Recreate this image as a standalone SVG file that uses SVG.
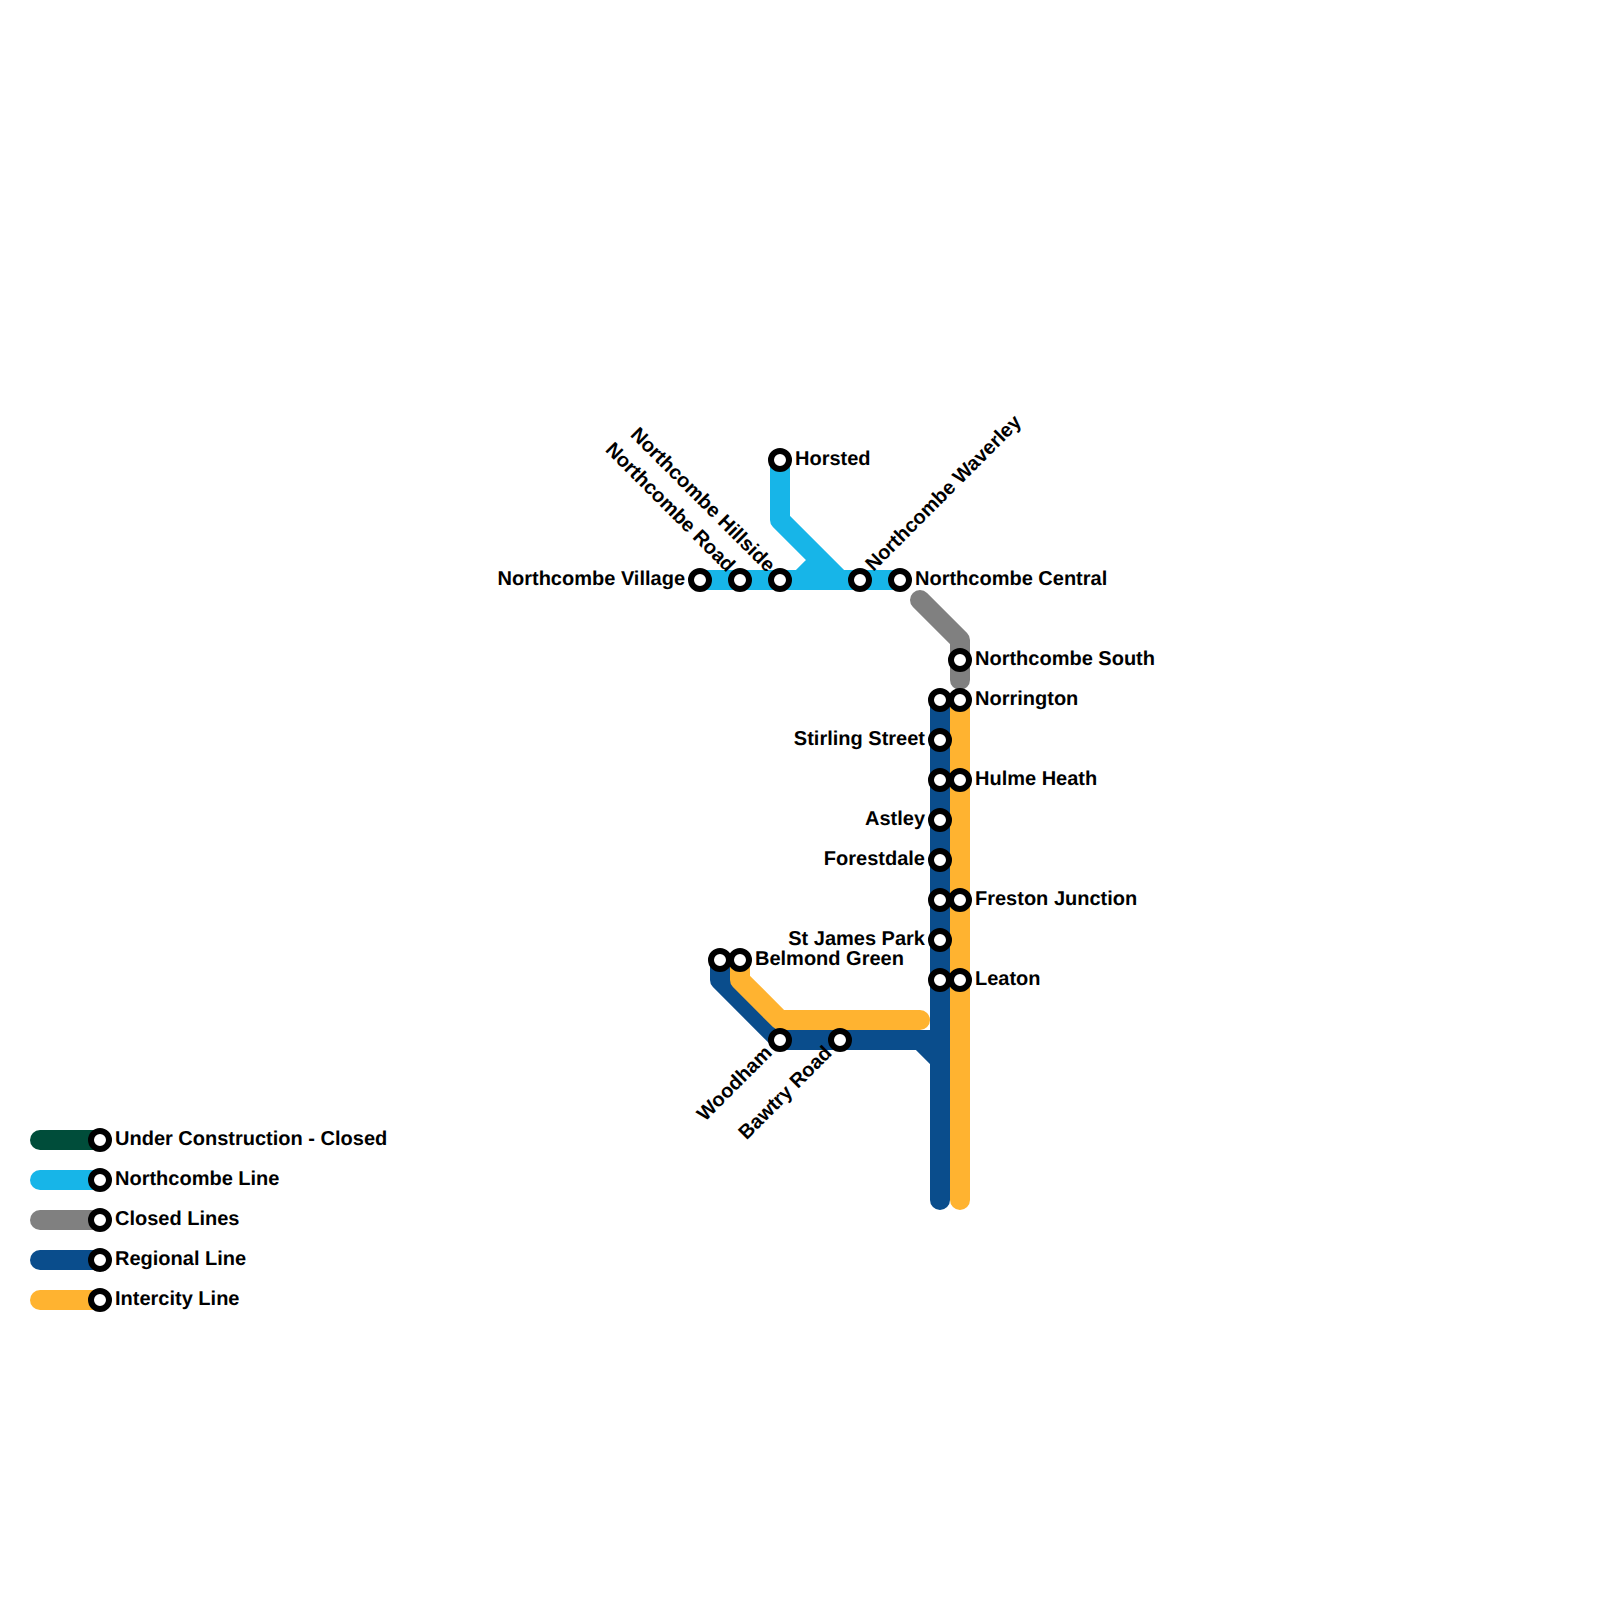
<svg xmlns="http://www.w3.org/2000/svg" width="1600" height="1600" viewBox="0 0 1600 1600">
<style>
.l{fill:none;stroke-width:20;stroke-linecap:round;stroke-linejoin:round}
.s{fill:#fff;stroke:#000;stroke-width:6}
text{font-family:"Liberation Sans",Arial,sans-serif;font-weight:700;font-size:20px;fill:#000;text-rendering:geometricPrecision}
.e{text-anchor:end}
</style>
<rect width="1600" height="1600" fill="#fff"/>
<g id="connectors">
<path class="l" stroke="#17b5e8" d="M780 460V520L840 580M700 580H900M780 580H800L820 560"/>
<path class="l" stroke="#808080" d="M920 600L960 640V680"/>
<path class="l" stroke="#0a4d8c" d="M720 960V980L780 1040H940M920 1040L940 1060M940 700V1200"/>
<path class="l" stroke="#ffb330" d="M740 960V980L780 1020H920M960 700V1200"/>
<path class="l" stroke="#004d3a" d="M40 1140H100"/>
<path class="l" stroke="#17b5e8" d="M40 1180H100"/>
<path class="l" stroke="#808080" d="M40 1220H100"/>
<path class="l" stroke="#0a4d8c" d="M40 1260H100"/>
<path class="l" stroke="#ffb330" d="M40 1300H100"/>
</g>
<g id="horsted"><circle class="s" cx="780" cy="460" r="9"/><text x="795" y="465">Horsted</text></g>
<g id="northcombe-village"><circle class="s" cx="700" cy="580" r="9"/><text class="e" x="685" y="585">Northcombe Village</text></g>
<g id="northcombe-road"><circle class="s" cx="740" cy="580" r="9"/><text class="e" transform="translate(727 573) rotate(45)">Northcombe Road</text></g>
<g id="northcombe-hillside"><circle class="s" cx="780" cy="580" r="9"/><text class="e" transform="translate(767 573) rotate(45)">Northcombe Hillside</text></g>
<g id="northcombe-waverley"><circle class="s" cx="860" cy="580" r="9"/><text transform="translate(873.5 572) rotate(-45)">Northcombe Waverley</text></g>
<g id="northcombe-central"><circle class="s" cx="900" cy="580" r="9"/><text x="915" y="585">Northcombe Central</text></g>
<g id="northcombe-south"><circle class="s" cx="960" cy="660" r="9"/><text x="975" y="665">Northcombe South</text></g>
<g id="norrington"><circle class="s" cx="940" cy="700" r="9"/><circle class="s" cx="960" cy="700" r="9"/><text x="975" y="705">Norrington</text></g>
<g id="stirling-street"><circle class="s" cx="940" cy="740" r="9"/><text class="e" x="925" y="745">Stirling Street</text></g>
<g id="hulme-heath"><circle class="s" cx="940" cy="780" r="9"/><circle class="s" cx="960" cy="780" r="9"/><text x="975" y="785">Hulme Heath</text></g>
<g id="astley"><circle class="s" cx="940" cy="820" r="9"/><text class="e" x="925" y="825">Astley</text></g>
<g id="forestdale"><circle class="s" cx="940" cy="860" r="9"/><text class="e" x="925" y="865">Forestdale</text></g>
<g id="freston-junction"><circle class="s" cx="940" cy="900" r="9"/><circle class="s" cx="960" cy="900" r="9"/><text x="975" y="905">Freston Junction</text></g>
<g id="st-james-park"><circle class="s" cx="940" cy="940" r="9"/><text class="e" x="925" y="945">St James Park</text></g>
<g id="leaton"><circle class="s" cx="940" cy="980" r="9"/><circle class="s" cx="960" cy="980" r="9"/><text x="975" y="985">Leaton</text></g>
<g id="belmond-green"><circle class="s" cx="720" cy="960" r="9"/><circle class="s" cx="740" cy="960" r="9"/><text x="755" y="965">Belmond Green</text></g>
<g id="woodham"><circle class="s" cx="780" cy="1040" r="9"/><text class="e" transform="translate(773 1054) rotate(-45)">Woodham</text></g>
<g id="bawtry-road"><circle class="s" cx="840" cy="1040" r="9"/><text class="e" transform="translate(833 1054) rotate(-45)">Bawtry Road</text></g>
<g id="legend-construction"><circle class="s" cx="100" cy="1140" r="9"/><text x="115" y="1145">Under Construction - Closed</text></g>
<g id="legend-northcombe"><circle class="s" cx="100" cy="1180" r="9"/><text x="115" y="1185">Northcombe Line</text></g>
<g id="legend-closed"><circle class="s" cx="100" cy="1220" r="9"/><text x="115" y="1225">Closed Lines</text></g>
<g id="legend-regional"><circle class="s" cx="100" cy="1260" r="9"/><text x="115" y="1265">Regional Line</text></g>
<g id="legend-intercity"><circle class="s" cx="100" cy="1300" r="9"/><text x="115" y="1305">Intercity Line</text></g>
</svg>
